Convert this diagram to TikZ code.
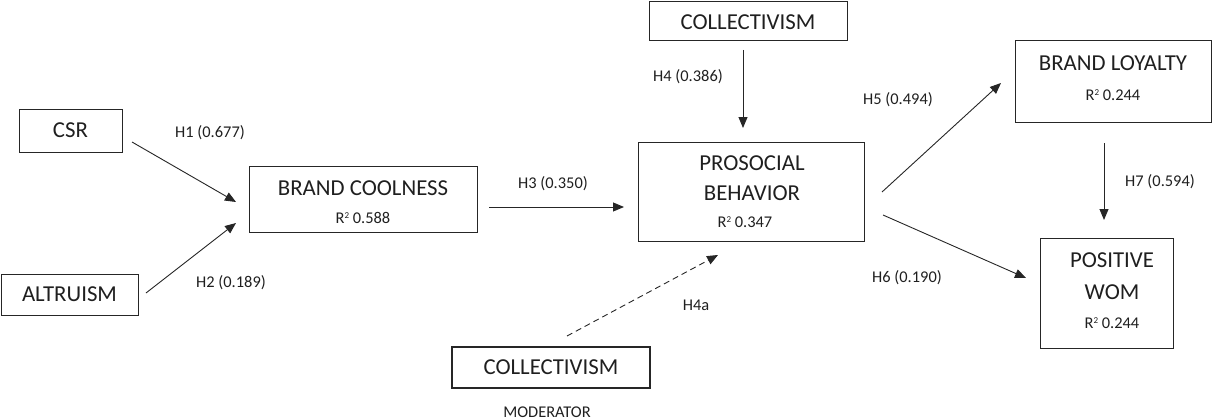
\documentclass[tikz,border=0pt]{standalone}
\usepackage{fontspec}
\setmainfont{Carlito}
\usetikzlibrary{arrows.meta}
\newcommand{\rsq}{R\raisebox{5pt}{\fontsize{9}{9}\selectfont 2}}
\begin{document}
\begin{tikzpicture}[x=1pt,y=-1pt,
  box/.style={draw=black!85,line width=0.9pt,rectangle,inner sep=0pt},
  big/.style={font=\fontsize{22.8}{26}\selectfont,text=black!88,inner sep=0pt},
  small/.style={font=\fontsize{16.4}{19}\selectfont,text=black!88,inner sep=0pt},
  conn/.style={draw=black!85,line width=0.9pt,-{Triangle[length=11pt,width=9pt]}},
]
\useasboundingbox (0,0) rectangle (1212,420);
% boxes
\node[box,minimum width=103pt,minimum height=43pt] (csr) at (70.5,130.5) {};
\node[box,minimum width=137pt,minimum height=41pt] (alt) at (69.5,294.5) {};
\node[box,minimum width=228pt,minimum height=66pt] (bc) at (363,199) {};
\node[box,minimum width=198pt,minimum height=39pt] (col1) at (748,20.5) {};
\node[box,minimum width=226pt,minimum height=99pt] (pb) at (751,191.5) {};
\node[box,line width=2pt,minimum width=198pt,minimum height=41pt] (col2) at (551,367.5) {};
\node[box,minimum width=196pt,minimum height=82pt] (bl) at (1113,81) {};
\node[box,minimum width=133pt,minimum height=110pt] (wom) at (1106.5,293) {};
% texts
\node[big] (tcsr) at (csr.center) {CSR};
\node[big] (talt) at (alt.center) {ALTRUISM};
\node[big] (tbc) at (363,188) {BRAND COOLNESS};
\node[small] (rbc) at (363,218) {\rsq{} 0.588};
\node[big] (tcol1) at (748,22) {COLLECTIVISM};
\node[big] (tpb1) at (752,163) {PROSOCIAL};
\node[big] (tpb2) at (752,193) {BEHAVIOR};
\node[small] (rpb) at (745,222) {\rsq{} 0.347};
\node[big] (tcol2) at (col2.center) {COLLECTIVISM};
\node[small] (mod) at (547,412) {MODERATOR};
\node[big] (tbl) at (1113,63) {BRAND LOYALTY};
\node[small] (rbl) at (1113,95) {\rsq{} 0.244};
\node[big] (twom1) at (1112,260) {POSITIVE};
\node[big] (twom2) at (1112,292) {WOM};
\node[small] (rwom) at (1112,323) {\rsq{} 0.244};
% labels
\node[small] (h1) at (210,133) {H1 (0.677)};
\node[small] (h2) at (231,283) {H2 (0.189)};
\node[small] (h3) at (553,184) {H3 (0.350)};
\node[small] (h4) at (688,77) {H4 (0.386)};
\node[small] (h4a) at (696,305) {H4a};
\node[small] (h5) at (898,100) {H5 (0.494)};
\node[small] (h6) at (907,278) {H6 (0.190)};
\node[small] (h7) at (1160,182) {H7 (0.594)};
% connector end points
\coordinate (a1s) at (132,142); \coordinate (a1e) at (236,202);
\coordinate (a2s) at (146,293); \coordinate (a2e) at (236,223);
\coordinate (a3s) at (489,207); \coordinate (a3e) at (624,207);
\coordinate (a4s) at (743,50);  \coordinate (a4e) at (743,128);
\coordinate (a4as) at (567,336); \coordinate (a4ae) at (718,255);
\coordinate (a5s) at (882,192); \coordinate (a5e) at (1001,83);
\coordinate (a6s) at (883,215); \coordinate (a6e) at (1026,278);
\coordinate (a7s) at (1104,143); \coordinate (a7e) at (1104,220);
% connectors
\draw[conn] (a1s) -- (a1e);
\draw[conn] (a2s) -- (a2e);
\draw[conn] (a3s) -- (a3e);
\draw[conn] (a4s) -- (a4e);
\draw[conn,dash pattern=on 6pt off 4pt] (a4as) -- (a4ae);
\draw[conn] (a5s) -- (a5e);
\draw[conn] (a6s) -- (a6e);
\draw[conn] (a7s) -- (a7e);
\end{tikzpicture}
\end{document}
